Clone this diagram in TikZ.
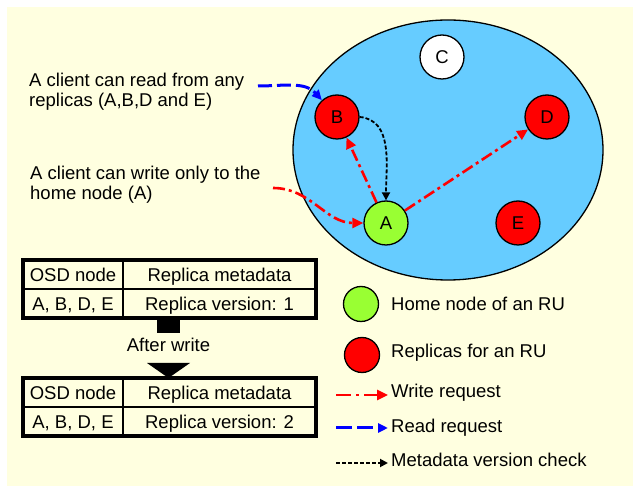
\documentclass[tikz,border=0pt]{standalone}
\usepackage{fontspec}
\setmainfont{Liberation Sans}
\usetikzlibrary{arrows.meta,shapes.geometric}
\definecolor{bgyellow}{HTML}{FFFFE0}
\definecolor{skyblue}{HTML}{66CCFF}
\definecolor{limegreen}{HTML}{99FF33}
\begin{document}
\begin{tikzpicture}[x=1pt,y=-1pt,
  font=\fontsize{18.5}{20}\selectfont,
  ru/.style={circle, draw=black, line width=1.3pt, minimum size=44pt, inner sep=0pt},
  lgcircle/.style={circle, draw=black, line width=1.3pt, minimum size=35pt, inner sep=0pt},
  writearrow/.style={red, line width=2.6pt, dash pattern=on 12pt off 4pt on 3pt off 4pt, -{Triangle[length=11pt,width=10pt]}},
  readarrow/.style={blue, line width=3pt, dash pattern=on 14pt off 5pt, -{Triangle[length=10pt,width=9pt]}},
  checkarrow/.style={black, line width=1.8pt, dash pattern=on 4pt off 2pt, -{Triangle[length=8pt,width=8pt]}},
  cell/.style={draw, line width=1.4pt, inner sep=0pt, outer sep=0pt, text height=13.5pt, text depth=0pt, minimum height=29pt},
  note/.style={anchor=north west, align=left, inner sep=0pt},
  legendtext/.style={anchor=base west, inner sep=0pt}
]
\useasboundingbox (0,0) rectangle (633,486);
\fill[bgyellow] (7,7) rectangle (633,486);

% cluster
\node[ellipse, draw, line width=1.3pt, fill=skyblue, minimum width=310pt, minimum height=260pt, inner sep=0pt] (cluster) at (448,150) {};
\node[ru, fill=white] (C) at (442,57) {C};
\node[ru, fill=red] (B) at (337,117) {B};
\node[ru, fill=red] (D) at (547,117) {D};
\node[ru, fill=limegreen] (A) at (386,223) {A};
\node[ru, fill=red] (E) at (518,223) {E};

% notes
\node[note] (readnote) at (29,72.5) {A client can read from any\\replicas (A,B,D and E)};
\node[note] (writenote) at (30,165.5) {A client can write only to the\\home node (A)};
\coordinate (rd) at (258,86);
\coordinate (wr) at (273,188);

% connectors
\draw[readarrow] (rd) to[out=0, in=132] (B);
\draw[writearrow] (wr) to[out=0, in=180] (A);
\draw[writearrow] (A) -- (B);
\draw[writearrow] (A) -- (D);
\draw[checkarrow] (B.east) to[out=-5, in=90] (A.north);

% table 1
\node[cell, minimum width=100pt] (t1h1) at (73,274.5) {OSD node};
\node[cell, minimum width=193pt] (t1h2) at (219.5,274.5) {Replica metadata};
\node[cell, minimum width=100pt] (t1r1) at (73,303.5) {A, B, D, E};
\node[cell, minimum width=193pt] (t1r2) at (219.5,303.5) {Replica version: 1};
\draw[line width=3.5pt] (t1h1.north west) rectangle (t1r2.south east);

% block arrow
\fill (157,320) rectangle (180,333);
\node[inner sep=0pt] (aw) at (168.5,345) {After write};
\fill (147,363) -- (190,363) -- (168.5,378) -- cycle;

% table 2
\node[cell, minimum width=100pt] (t2h1) at (73,392.5) {OSD node};
\node[cell, minimum width=193pt] (t2h2) at (219.5,392.5) {Replica metadata};
\node[cell, minimum width=100pt] (t2r1) at (73,421.5) {A, B, D, E};
\node[cell, minimum width=193pt] (t2r2) at (219.5,421.5) {Replica version: 2};
\draw[line width=3.5pt] (t2h1.north west) rectangle (t2r2.south east);

% legend
\node[lgcircle, fill=limegreen] (lgA) at (361,304) {};
\node[legendtext] (lgAt) at (391,310.5) {Home node of an RU};
\node[lgcircle, fill=red] (lgR) at (362,355) {};
\node[legendtext] (lgRt) at (391,358) {Replicas for an RU};
\coordinate (lw1) at (336,395);
\coordinate (lw2) at (388,395);
\draw[writearrow, dash pattern=on 15pt off 5pt on 3pt off 5pt] (lw1) -- (lw2);
\node[legendtext] (lwt) at (391,398) {Write request};
\coordinate (lr1) at (336,428);
\coordinate (lr2) at (388,428);
\draw[readarrow, dash pattern=on 16pt off 5pt] (lr1) -- (lr2);
\node[legendtext] (lrt) at (391,432.5) {Read request};
\coordinate (lc1) at (336,463);
\coordinate (lc2) at (388,463);
\draw[checkarrow] (lc1) -- (lc2);
\node[legendtext] (lct) at (391,467) {Metadata version check};
\end{tikzpicture}
\end{document}
